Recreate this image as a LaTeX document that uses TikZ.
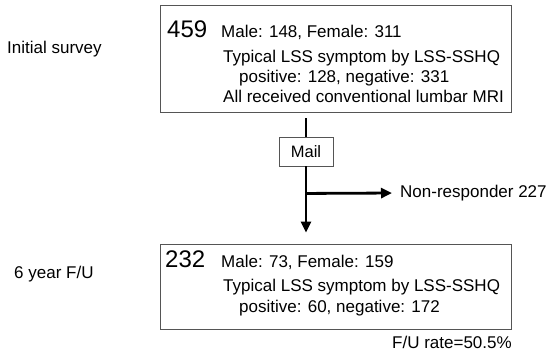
\documentclass[tikz,border=0pt]{standalone}
\usepackage{fontspec}
\setmainfont{Liberation Sans}
\usetikzlibrary{arrows.meta,positioning,calc}
\definecolor{frame}{HTML}{555555}

\begin{document}
\begin{tikzpicture}[x=1pt, y=1pt,
  box/.style={draw=frame, line width=0.9pt, inner sep=0pt},
  txt/.style={anchor=base west, inner sep=0pt, font=\fontsize{17}{20}\selectfont},
  big/.style={anchor=base west, inner sep=0pt, font=\fontsize{24}{28}\selectfont},
  flow/.style={line width=2.8pt},
  arr/.style={flow, -{Triangle[length=11pt, width=10pt]}}]

\useasboundingbox (0,0) rectangle (550,-359);

% boxes
\node[box, minimum width=351pt, minimum height=107pt] (init) at (335.5,-58.5) {};
\node[box, minimum width=351pt, minimum height=85pt] (fu) at (335.5,-286.5) {};
\node[box, minimum width=54pt, minimum height=29pt, font=\fontsize{16.5}{19}\selectfont] (mail) at (306,-151.5) {Mail};

% left labels
\node[txt] (lab1) at (7,-53) {Initial survey};
\node[txt] (lab2) at (14,-278) {6 year F/U};

% initial survey contents
\node[big] (n1) at (167,-37) {459};
\node[txt] (sex1) at (221,-37) {Male: 148, Female: 311};
\node[txt] (sym1) at (223,-62) {Typical LSS symptom by LSS-SSHQ};
\node[txt] (pos1) at (239,-82) {positive: 128, negative: 331};
\node[txt] (mri1) at (223,-102) {All received conventional lumbar MRI};

% follow-up contents
\node[big] (n2) at (165,-267) {232};
\node[txt] (sex2) at (221,-267) {Male: 73, Female: 159};
\node[txt] (sym2) at (223,-291) {Typical LSS symptom by LSS-SSHQ};
\node[txt] (pos2) at (239,-312) {positive: 60, negative: 172};
\node[txt] (rate) at (392,-348) {F/U rate=50.5\%};

% flow
\node[anchor=west, inner sep=4pt, font=\fontsize{17}{20}\selectfont] (nonresp) at (396,-193) {Non-responder 227};
\coordinate (split) at ($(mail.south)+(0,-27)$);

\draw[flow, shorten <=6pt] (mail.north |- init.south) -- (mail.north);
\draw[arr, shorten >=11pt] (mail.south) -- (mail.south |- fu.north);
\draw[arr, shorten >=4pt] (split) -- (nonresp.west);
\end{tikzpicture}
\end{document}
